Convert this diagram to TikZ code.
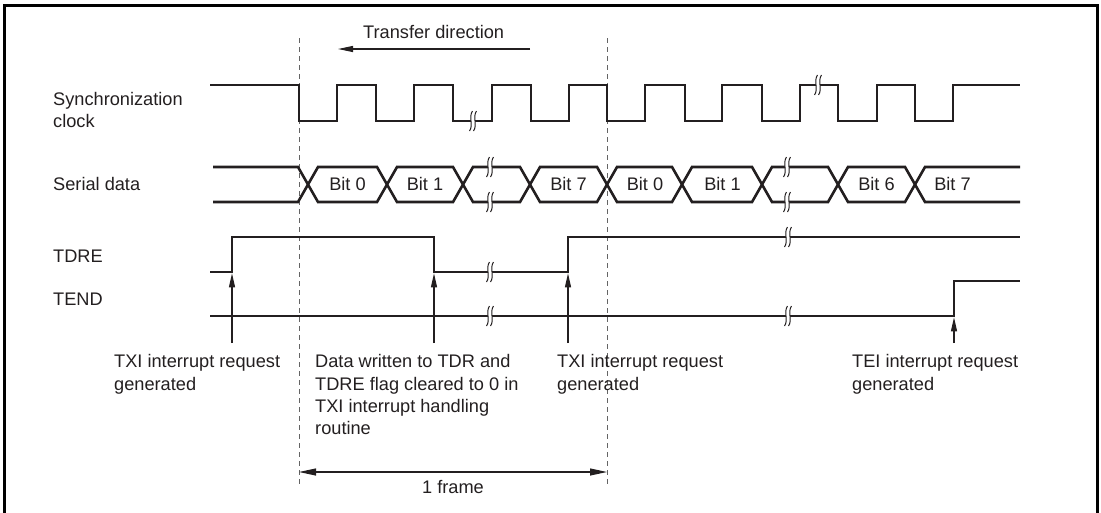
\documentclass[tikz,border=0pt]{standalone}
\usepackage{fontspec}
\setmainfont{Liberation Sans}
\usetikzlibrary{arrows.meta}
\definecolor{ink}{RGB}{35,31,32}
\definecolor{guidegray}{RGB}{100,100,100}
\begin{document}
\begin{tikzpicture}[x=1pt,y=-1pt,
  sig/.style={line width=2.6pt, draw=ink, line join=miter},
  guide/.style={draw=guidegray, line width=1pt, dash pattern=on 5pt off 4pt},
  evarrow/.style={line width=1.1pt, draw=ink, -{Triangle[length=14pt,width=6pt]}},
  lbl/.style={anchor=base west, inner sep=0pt, text=ink, align=left,
    font=\fontsize{18.2}{22.4}\selectfont},
  bitlbl/.style={anchor=base, inner sep=0pt, text=ink, font=\fontsize{18.2}{22.4}\selectfont},
  breakmark/.pic={
    \draw[white, line width=4pt] (1.5,-10) .. controls (-2.5,-5) and (2.5,5) .. (-1.5,10);
    \draw[ink, line width=1pt] (-0.5,-10) .. controls (-4.5,-5) and (0.5,5) .. (-3.5,10);
    \draw[ink, line width=1pt] (3.5,-10) .. controls (-0.5,-5) and (4.5,5) .. (0.5,10);
  }]
\useasboundingbox (0,0) rectangle (1101,512);
% frame
\draw[line width=3pt, black] (4,515) -- (4,5.5) -- (1097,5.5) -- (1097,515);

% guide lines
\coordinate (gAt) at (299,38);
\coordinate (gAb) at (299,487);
\coordinate (gBt) at (607,38);
\coordinate (gBb) at (607,487);
\draw[guide] (gAt) -- (gAb);
\draw[guide] (gBt) -- (gBb);

% transfer direction
\node[bitlbl, anchor=base west] (tdir) at (363,38.3) {Transfer direction};
\coordinate (tdirS) at (530,49);
\coordinate (tdirE) at (338,49);
\draw[line width=1.1pt, draw=ink, -{Triangle[length=15pt,width=6pt]}] (tdirS) -- (tdirE);

% signal labels (multi-line nodes: base = last line)
\node[lbl] (lsync) at (53,127) {Synchronization\\[-1pt]clock};
\node[lbl] (lser) at (53,190) {Serial data};
\node[lbl] (ltdre) at (53,262.3) {TDRE};
\node[lbl] (ltend) at (53,305) {TEND};

% clock
\draw[sig] (210,85) -- (299,85) -- (299,121) -- (337,121) -- (337,85) -- (376,85) -- (376,121)
  -- (414,121) -- (414,85) -- (453,85) -- (453,121) -- (492,121) -- (492,85) -- (531,85)
  -- (531,121) -- (569,121) -- (569,85) -- (607,85) -- (607,121) -- (645,121) -- (645,85)
  -- (685,85) -- (685,121) -- (722,121) -- (722,85) -- (762,85) -- (762,121) -- (800,121)
  -- (800,85) -- (838,85) -- (838,121) -- (877,121) -- (877,85) -- (915,85) -- (915,121)
  -- (953,121) -- (953,85) -- (1020,85);
\pic at (473,121) {breakmark};
\pic at (818,85) {breakmark};

% serial data
\draw[sig] (213,167) -- (298,167) -- (318,202) -- (377,202) -- (397,167) -- (453,167) -- (473,202)
  -- (520,202) -- (540,167) -- (597,167) -- (617,202) -- (672,202) -- (692,167) -- (752,167)
  -- (772,202) -- (828,202) -- (848,167) -- (905,167) -- (925,202) -- (1020,202);
\draw[sig] (213,202) -- (298,202) -- (318,167) -- (377,167) -- (397,202) -- (453,202) -- (473,167)
  -- (520,167) -- (540,202) -- (597,202) -- (617,167) -- (672,167) -- (692,202) -- (752,202)
  -- (772,167) -- (828,167) -- (848,202) -- (905,202) -- (925,167) -- (1020,167);
\pic at (490,167) {breakmark};
\pic at (490,202) {breakmark};
\pic at (787,167) {breakmark};
\pic at (787,202) {breakmark};
\node[bitlbl] (b0a) at (347.5,190.7) {Bit 0};
\node[bitlbl] (b1a) at (425,190.7) {Bit 1};
\node[bitlbl] (b7a) at (568.5,190.7) {Bit 7};
\node[bitlbl] (b0b) at (645,190.7) {Bit 0};
\node[bitlbl] (b1b) at (722.5,190.7) {Bit 1};
\node[bitlbl] (b6b) at (876.5,190.7) {Bit 6};
\node[bitlbl] (b7b) at (952.5,190.7) {Bit 7};

% TDRE
\draw[sig] (210,272) -- (232,272) -- (232,237) -- (434,237) -- (434,272) -- (568,272) -- (568,237) -- (1020,237);
\pic at (490,272) {breakmark};
\pic at (788,237) {breakmark};

% TEND
\draw[sig] (210,316) -- (954,316) -- (954,281) -- (1020,281);
\pic at (490,316) {breakmark};
\pic at (788,316) {breakmark};

% event arrows
\coordinate (e1s) at (232,343); \coordinate (e1e) at (232,273.3);
\coordinate (e2s) at (434,343); \coordinate (e2e) at (434,273.3);
\coordinate (e3s) at (568,343); \coordinate (e3e) at (568,273.3);
\coordinate (e4s) at (954,343); \coordinate (e4e) at (954,317.3);
\draw[evarrow] (e1s) -- (e1e);
\draw[evarrow] (e2s) -- (e2e);
\draw[evarrow] (e3s) -- (e3e);
\draw[evarrow] (e4s) -- (e4e);

% event texts (base anchor sits on the last line)
\node[lbl] (t1) at (114,390.1) {TXI interrupt request\\generated};
\node[lbl] (t2) at (315,434.9) {Data written to TDR and\\TDRE flag cleared to 0 in\\TXI interrupt handling\\routine};
\node[lbl] (t3) at (557,390.1) {TXI interrupt request\\generated};
\node[lbl] (t4) at (852,390.1) {TEI interrupt request\\generated};

% 1 frame
\draw[line width=1.1pt, draw=ink, {Triangle[length=17pt,width=7pt]}-{Triangle[length=17pt,width=7pt]}] (gAb |- 0,472) -- (gBb |- 0,472);
\node[bitlbl] (frm) at (453,493) {1 frame};
\end{tikzpicture}
\end{document}
